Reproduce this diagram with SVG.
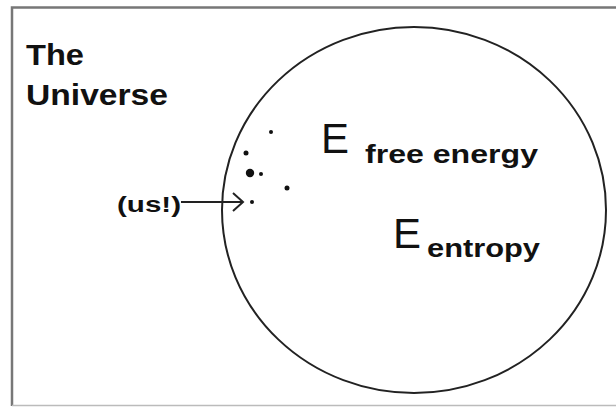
<svg xmlns="http://www.w3.org/2000/svg" width="616" height="407" viewBox="0 0 616 407">
<style>
  .t { font-family: "Liberation Sans", Arial, sans-serif; font-weight: bold; fill: #111; }
  .E { font-family: "Liberation Sans", Arial, sans-serif; font-weight: normal; fill: #111; }
  .line { stroke: #222; stroke-width: 2; fill: none; }
  .dot { fill: #111; }
</style>
<rect x="0" y="0" width="616" height="407" fill="#fff"/>
<path d="M12 406 V7.5 H616" fill="none" stroke="#777" stroke-width="2.5"/>
<line x1="12" y1="405.5" x2="616" y2="405.5" stroke="#bbb" stroke-width="1.5"/>
<g id="title">
  <text class="t" x="26" y="65" font-size="30" textLength="58" lengthAdjust="spacingAndGlyphs">The</text>
  <text class="t" x="26" y="105" font-size="30" textLength="142" lengthAdjust="spacingAndGlyphs">Universe</text>
</g>
<g id="universe">
  <ellipse class="line" cx="414" cy="210" rx="192" ry="183"/>
</g>
<g id="dots">
  <circle class="dot" cx="271" cy="132" r="2"/>
  <circle class="dot" cx="246" cy="153" r="2.5"/>
  <circle class="dot" cx="250" cy="173" r="4.2"/>
  <circle class="dot" cx="261" cy="174" r="2"/>
  <circle class="dot" cx="287" cy="188" r="2.5"/>
  <circle class="dot" cx="252" cy="202" r="2"/>
</g>
<g id="us">
  <text class="t" x="117" y="212" font-size="22" textLength="64" lengthAdjust="spacingAndGlyphs">(us!)</text>
</g>
<g id="connectors">
  <line class="line" x1="181" y1="202" x2="243" y2="202"/>
  <polyline class="line" points="233,193 243,202 233,211"/>
</g>
<g id="free-energy">
  <text class="E" x="321" y="153" font-size="42" textLength="28" lengthAdjust="spacingAndGlyphs">E</text>
  <text class="t" x="365" y="163" font-size="25" textLength="173" lengthAdjust="spacingAndGlyphs">free energy</text>
</g>
<g id="entropy">
  <text class="E" x="393" y="248" font-size="42" textLength="28" lengthAdjust="spacingAndGlyphs">E</text>
  <text class="t" x="427" y="257" font-size="25" textLength="113" lengthAdjust="spacingAndGlyphs">entropy</text>
</g>
</svg>
